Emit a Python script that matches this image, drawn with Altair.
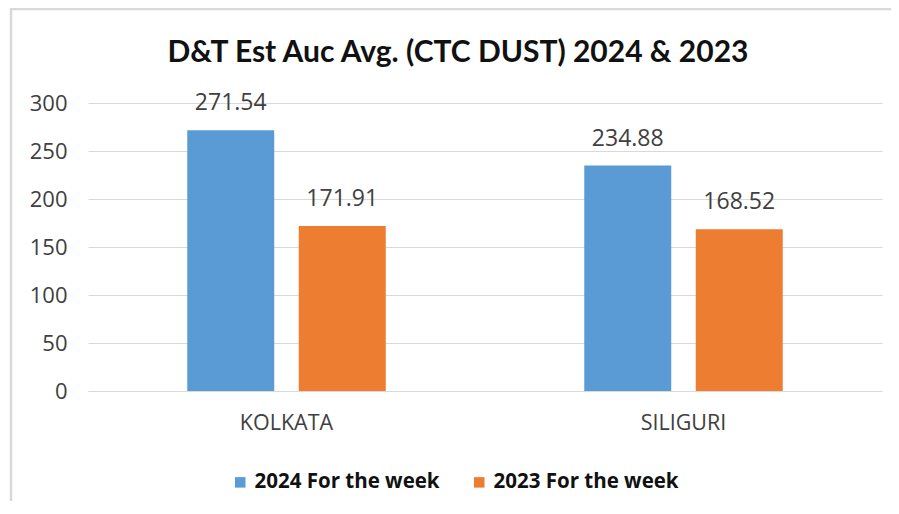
import altair as alt
import pandas as pd

regions = ["KOLKATA", "SILIGURI"]
series = ["2024 For the week", "2023 For the week"]
values_2024 = [271.54, 234.88]
values_2023 = [171.91, 168.52]
colors = ["#5B9BD5", "#ED7D31"]
y_ticks = [0, 50, 100, 150, 200, 250, 300]

rows = []
for i, r in enumerate(regions):
    rows.append({"region": r, "series": series[0], "value": values_2024[i]})
    rows.append({"region": r, "series": series[1], "value": values_2023[i]})
df = pd.DataFrame(rows)

x = alt.X("region:N", sort=regions, title=None,
          scale=alt.Scale(paddingInner=0.5, paddingOuter=0.25),
          axis=alt.Axis(labelAngle=0, labelFont="Open Sans", labelFontSize=21.5,
                        labelColor="#404040", ticks=False, domain=True, grid=False,
                        domainColor="#d9d9d9", labelPadding=21))
xo = alt.XOffset("series:N", sort=series, scale=alt.Scale(paddingInner=0.22))
y = alt.Y("value:Q", title=None,
          scale=alt.Scale(domain=[0, 300]),
          axis=alt.Axis(values=y_ticks, labelFont="Open Sans", labelFontSize=22,
                        labelColor="#404040", ticks=False, domain=False,
                        gridColor="#d9d9d9", labelPadding=21))
color = alt.Color("series:N", sort=series,
                  scale=alt.Scale(domain=series, range=colors),
                  legend=alt.Legend(title=None, orient="none", direction="horizontal",
                                    legendX=142, legendY=369,
                                    symbolType="square", symbolSize=110,
                                    symbolStrokeWidth=0,
                                    labelFont="Open Sans", labelFontSize=20.5,
                                    labelFontWeight="bold", labelColor="#111111",
                                    columnPadding=29, labelLimit=300))

base = alt.Chart(df)
bars = base.mark_bar().encode(x=x, xOffset=xo, y=y, color=color)
labels = base.mark_text(dy=-27, font="Open Sans", fontSize=23, color="#404040").encode(
    x=x, xOffset=xo, y=y, text=alt.Text("value:Q", format=".2f"))

frame = alt.Chart(pd.DataFrame({"f": [0]})).mark_rect(
    fill=None, stroke="#d9d9d9", strokeWidth=2.5, clip=False
).encode(x=alt.value(-77), x2=alt.value(920), y=alt.value(-94), y2=alt.value(520))

chart = (frame + bars + labels).properties(
    width=794, height=288,
    background="white",
    autosize=alt.AutoSizeParams(type="none"),
    padding={"left": 80, "top": 95, "right": 9, "bottom": 110},
    title=alt.TitleParams("D&T Est Auc Avg. (CTC DUST) 2024 & 2023",
                          font="Lato", fontSize=30, fontWeight="bold",
                          color="#111111", anchor="middle", offset=-60, dx=-27),
).configure_view(stroke=None, strokeWidth=0)

chart.save("out.html", embed_options={"renderer": "svg", "actions": False})
